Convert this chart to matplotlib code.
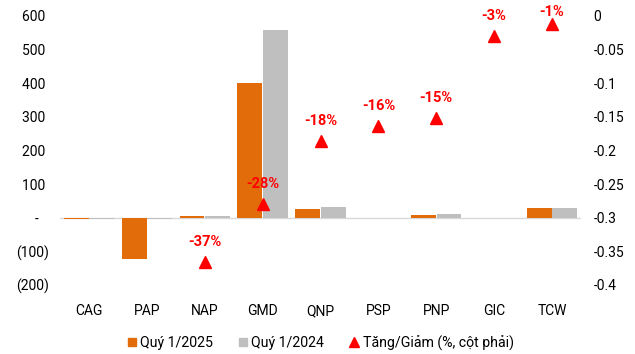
import matplotlib
matplotlib.use("Agg")
import matplotlib.pyplot as plt
from matplotlib.lines import Line2D
import numpy as np

plt.rcParams['font.family'] = ['Roboto', 'DejaVu Sans']

categories = ["CAG", "PAP", "NAP", "GMD", "QNP", "PSP", "PNP", "GIC", "TCW"]
q1_2025 = [-3, -123, 4, 400, 25, 0, 7, 0, 28]
q1_2024 = [-3, -3, 4, 557, 31, 0, 10, 0, 28]
change = [None, None, -0.366, -0.28, -0.186, -0.164, -0.152, -0.03, -0.013]
change_labels = [None, None, "-37%", "-28%", "-18%", "-16%", "-15%", "-3%", "-1%"]
left_ticks = [600, 500, 400, 300, 200, 100, 0, -100, -200]
left_ticklabels = ["600 ", "500 ", "400 ", "300 ", "200 ", "100 ", "-   ", "(100)", "(200)"]
right_ticks = [0, -0.05, -0.1, -0.15, -0.2, -0.25, -0.3, -0.35, -0.4]
right_ticklabels = ["0", "-0.05", "-0.1", "-0.15", "-0.2", "-0.25", "-0.3", "-0.35", "-0.4"]

orange = "#E36C0A"
gray = "#BFBFBF"
red = "#FF0000"

W, H = 635, 354
fig = plt.figure(figsize=(6.35, 3.54), dpi=100)
ax = fig.add_axes([60/W, 1-285/H, 521/W, (285-15.7)/H])
x = np.arange(len(categories))
w = 0.43
ax.bar(x - w/2 - 0.005, q1_2025, width=w, color=orange, zorder=2)
ax.bar(x + w/2 + 0.005, q1_2024, width=w, color=gray, zorder=2)
ax.axhline(0, color="#D9D9D9", lw=1, zorder=1)
ax.set_xlim(-0.5, len(categories) - 0.5)
ax.set_ylim(-200, 600)
ax.set_yticks(left_ticks)
ax.set_yticklabels(left_ticklabels)
ax.set_xticks(x)
ax.set_xticklabels(categories)
for s in ax.spines.values():
    s.set_visible(False)
ax.tick_params(axis='both', length=0, labelsize=10, colors="#000000")
ax.tick_params(axis='x', pad=14)
ax.tick_params(axis='y', pad=8)

ax2 = ax.twinx()
ax2.set_ylim(-0.4, 0)
ax2.set_yticks(right_ticks)
ax2.set_yticklabels(right_ticklabels)
for s in ax2.spines.values():
    s.set_visible(False)
ax2.tick_params(axis='y', length=0, labelsize=10, pad=9)

xs = [i for i, v in enumerate(change) if v is not None]
vs = [v for v in change if v is not None]
ax2.plot(xs, vs, linestyle='none', marker='^', markersize=8.5, color=red, zorder=3)
for i, v in enumerate(change):
    if v is None:
        continue
    # display y of marker (pixels from bottom)
    _, ypix = ax2.transData.transform((i, v))
    top_limit = H - 12.5
    ylab = min(ypix + 20, top_limit)
    off_pts = (ylab - ypix) * 72 / 100
    ax2.annotate(change_labels[i], (i, v), xytext=(0, off_pts), textcoords='offset points',
                 ha='center', va='center', color=red, fontsize=10.5, fontweight='bold',
                 annotation_clip=False)

handles = [
    Line2D([], [], linestyle='none', marker='s', markersize=6, color=orange),
    Line2D([], [], linestyle='none', marker='s', markersize=6, color=gray),
    Line2D([], [], linestyle='none', marker='^', markersize=7, color=red),
]
labels = ["Quý 1/2025", "Quý 1/2024", "Tăng/Giảm (%, cột phải)"]
fig.legend(handles, labels, loc='center', bbox_to_anchor=(320.5/W, 1-343/H), ncol=3,
           frameon=False, fontsize=10.2, handlelength=0.6, handletextpad=0.3, columnspacing=1.8)

fig.savefig("out.png", dpi=100)
